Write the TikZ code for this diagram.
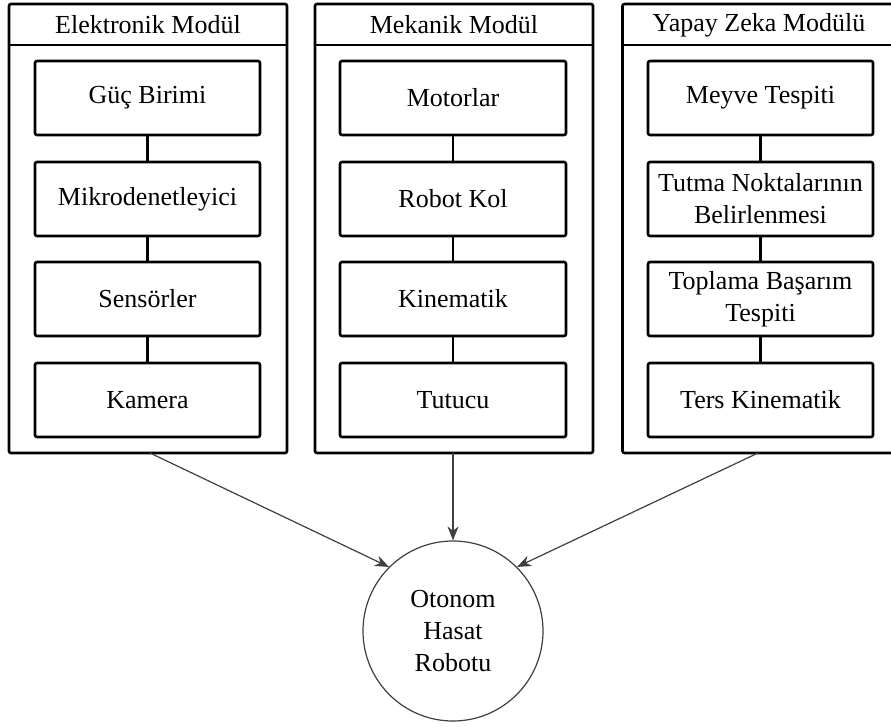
\documentclass[tikz,border=0pt]{standalone}
\usepackage{fontspec}
\setmainfont{Liberation Serif}
\usetikzlibrary{arrows.meta}
\definecolor{arrowgrey}{HTML}{404040}
\tikzset{
  outerbox/.style={draw=black, line width=2.6pt, rounded corners=2pt, inner sep=0pt},
  innerbox/.style={draw=black, line width=2.6pt, rounded corners=2pt, minimum height=74pt, inner sep=0pt, align=center, font=\fontsize{26}{32}\selectfont},
  headtext/.style={inner sep=0pt, font=\fontsize{26}{32}\selectfont},
  link/.style={draw=black, line width=2.6pt},
  flow/.style={draw=arrowgrey, line width=1.2pt, -{Stealth[length=14pt,width=11pt]}},
  goal/.style={circle, draw=arrowgrey, line width=1.2pt, minimum size=180pt, inner sep=0pt, align=center, font=\fontsize{26}{32}\selectfont}
}
\begin{document}
\begin{tikzpicture}[x=1pt,y=-1pt]
\useasboundingbox[fill=white] (0,0) rectangle (891,727);
\clip (0,0) rectangle (891,727);
% outer module boxes
\node[outerbox, minimum width=278pt, minimum height=449pt] (L) at (148,228.5) {};
\node[outerbox, minimum width=278pt, minimum height=449pt] (M) at (454,228.5) {};
\node[outerbox, minimum width=278pt, minimum height=449pt] (R) at (761.5,228.5) {};
\draw[line width=2.6pt] (9,45) -- (287,45);
\draw[line width=2.6pt] (315,45) -- (593,45);
\draw[line width=2.6pt] (623,45) -- (900.5,45);
\node[headtext] (hL) at (148,25) {Elektronik Modül};
\node[headtext] (hM) at (454,25) {Mekanik Modül};
\node[headtext] (hR) at (759,25) {Yapay Zeka Modülü};
% left column
\node[innerbox, minimum width=225pt] (l1) at (147.5,98) {Güç Birimi};
\node[innerbox, minimum width=225pt] (l2) at (147.5,199) {Mikrodenetleyici};
\node[innerbox, minimum width=225pt] (l3) at (147.5,299) {Sensörler};
\node[innerbox, minimum width=225pt] (l4) at (147.5,400) {Kamera};
% middle column
\node[innerbox, minimum width=226pt] (m1) at (453,98) {Motorlar};
\node[innerbox, minimum width=226pt] (m2) at (453,199) {Robot Kol};
\node[innerbox, minimum width=226pt] (m3) at (453,299) {Kinematik};
\node[innerbox, minimum width=226pt] (m4) at (453,400) {Tutucu};
% right column
\node[innerbox, minimum width=225pt] (r1) at (760.5,98) {Meyve Tespiti};
\node[innerbox, minimum width=225pt] (r2) at (760.5,199) {Tutma Noktalarının\\Belirlenmesi};
\node[innerbox, minimum width=225pt] (r3) at (760.5,299) {Toplama Başarım\\Tespiti};
\node[innerbox, minimum width=225pt] (r4) at (760.5,400) {Ters Kinematik};
% links
\foreach \c in {l,m,r}{
  \draw[link] (\c1.south) -- (\c2.north);
  \draw[link] (\c2.south) -- (\c3.north);
  \draw[link] (\c3.south) -- (\c4.north);
}
% goal
\node[goal] (G) at (453,631) {Otonom\\Hasat\\Robotu};
\coordinate (sL) at (150,453);
\coordinate (sM) at (453,453);
\coordinate (sR) at (758,453);
\draw[flow] (sL) -- (G.135);
\draw[flow] (sM) -- (G.north);
\draw[flow] (sR) -- (G.45);
\end{tikzpicture}
\end{document}
